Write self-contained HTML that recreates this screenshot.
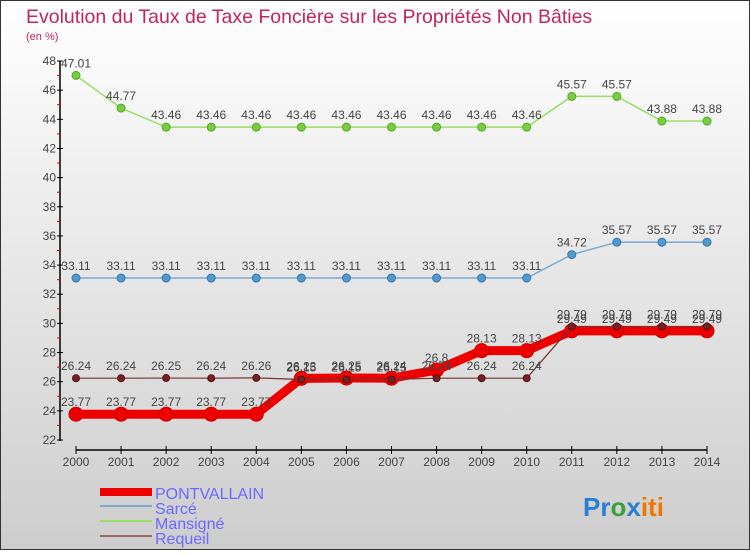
<!DOCTYPE html>
<html><head><meta charset="utf-8"><style>
body{margin:0;}
svg text{font-family:"Liberation Sans",sans-serif;}
</style></head><body>
<svg width="750" height="550" xmlns="http://www.w3.org/2000/svg">
<defs><linearGradient id="bg" x1="0" y1="0" x2="0" y2="1"><stop offset="0" stop-color="#ffffff"/><stop offset="1" stop-color="#cdcdcd"/></linearGradient></defs>
<rect x="0.5" y="0.5" width="749" height="549" fill="url(#bg)" stroke="#333"/>
<text x="26" y="23" font-size="19.5" fill="#c2255c">Evolution du Taux de Taxe Foncière sur les Propriétés Non Bâties</text>
<text x="26" y="40" font-size="11" fill="#c2255c">(en %)</text>
<g id="axes"></g><g id="series"></g><g id="labels"></g>
<g>
<rect x="100" y="488" width="52" height="8" fill="#ee0000"/>
<text x="155" y="499" font-size="16" fill="#6a6aff">PONTVALLAIN</text>
<rect x="100" y="505" width="52" height="2" fill="#7aaad0"/>
<text x="155" y="514" font-size="16" fill="#6a6aff">Sarcé</text>
<rect x="100" y="520" width="52" height="2" fill="#99dd66"/>
<text x="155" y="529" font-size="16" fill="#6a6aff">Mansigné</text>
<rect x="100" y="535" width="52" height="2" fill="#996666"/>
<text x="155" y="544" font-size="16" fill="#6a6aff">Requeil</text>
</g>
<text x="583" y="516" font-size="26" font-weight="bold"><tspan fill="#2a7fd4">Pr</tspan><tspan fill="#3aa03a">o</tspan><tspan fill="#2a7fd4">x</tspan><tspan fill="#ee7700">iti</tspan></text>
</svg>
<script>
const years=[2000,2001,2002,2003,2004,2005,2006,2007,2008,2009,2010,2011,2012,2013,2014];
const yTicks=[22,24,26,28,30,32,34,36,38,40,42,44,46,48];
const pontvallain=[23.77,23.77,23.77,23.77,23.77,26.23,26.25,26.24,26.8,28.13,28.13,29.49,29.49,29.49,29.49];
const sarce=[33.11,33.11,33.11,33.11,33.11,33.11,33.11,33.11,33.11,33.11,33.11,34.72,35.57,35.57,35.57];
const mansigne=[47.01,44.77,43.46,43.46,43.46,43.46,43.46,43.46,43.46,43.46,43.46,45.57,45.57,43.88,43.88];
const requeil=[26.24,26.24,26.25,26.24,26.26,26.15,26.15,26.15,26.24,26.24,26.24,29.79,29.79,29.79,29.79];
const NS="http://www.w3.org/2000/svg";
const x=i=>76+i*(707-76)/(years.length-1);
const y=v=>440-(v-22)*(379/26);
function mk(t,a,p){const e=document.createElementNS(NS,t);for(const k in a)e.setAttribute(k,a[k]);p.appendChild(e);return e;}
const ax=document.getElementById('axes');
let l=mk('line',{x1:60,y1:61,x2:60,y2:441,stroke:'#000','stroke-width':1.5},ax);


l=mk('line',{x1:76,y1:450,x2:707,y2:450,stroke:'#000','stroke-width':1.5},ax);


yTicks.forEach(v=>{mk('line',{x1:57,y1:y(v),x2:63,y2:y(v),stroke:'#000'},ax);
 const t=mk('text',{x:56,y:y(v)+4,'font-size':12,'text-anchor':'end',fill:'#444'},ax);t.textContent=v;
 
 
 if(v<48)mk('line',{x1:57,y1:y(v+1),x2:60,y2:y(v+1),stroke:'#e00'},ax);});
years.forEach((yr,i)=>{mk('line',{x1:x(i),y1:446,x2:x(i),y2:454,stroke:'#000'},ax);
 const t=mk('text',{x:x(i),y:466,'font-size':12,'text-anchor':'middle',fill:'#444'},ax);t.textContent=yr;
 
 });
const sg=document.getElementById('series'),lg=document.getElementById('labels');
function draw(d,name,color,w,r,dot,stroke){
 const p=mk('polyline',{points:d.map((v,i)=>x(i)+','+y(v)).join(' '),fill:'none',stroke:color,'stroke-width':w,'stroke-linejoin':'round'},sg);
 
 
 d.forEach((v,i)=>{const c=mk('circle',{cx:x(i),cy:y(v),r:r,fill:dot,stroke:stroke,'stroke-width':1},sg);
  
  
  const t=mk('text',{x:x(i),y:y(v)-8,'font-size':12,'text-anchor':'middle',fill:'#444'},lg);t.textContent=v;
  
  });
}
draw(mansigne,'mansigne','#99dd66',1.5,4,'#77cc44','#55aa22');
draw(sarce,'sarce','#7aaad0',1.5,4,'#5599cc','#3377aa');
draw(pontvallain,'pontvallain','#ee0000',9,7,'#ee0000','#cc0000');
draw(requeil,'requeil','#773333',1.2,3.5,'#772222','#551111');
</script>
</body></html>
